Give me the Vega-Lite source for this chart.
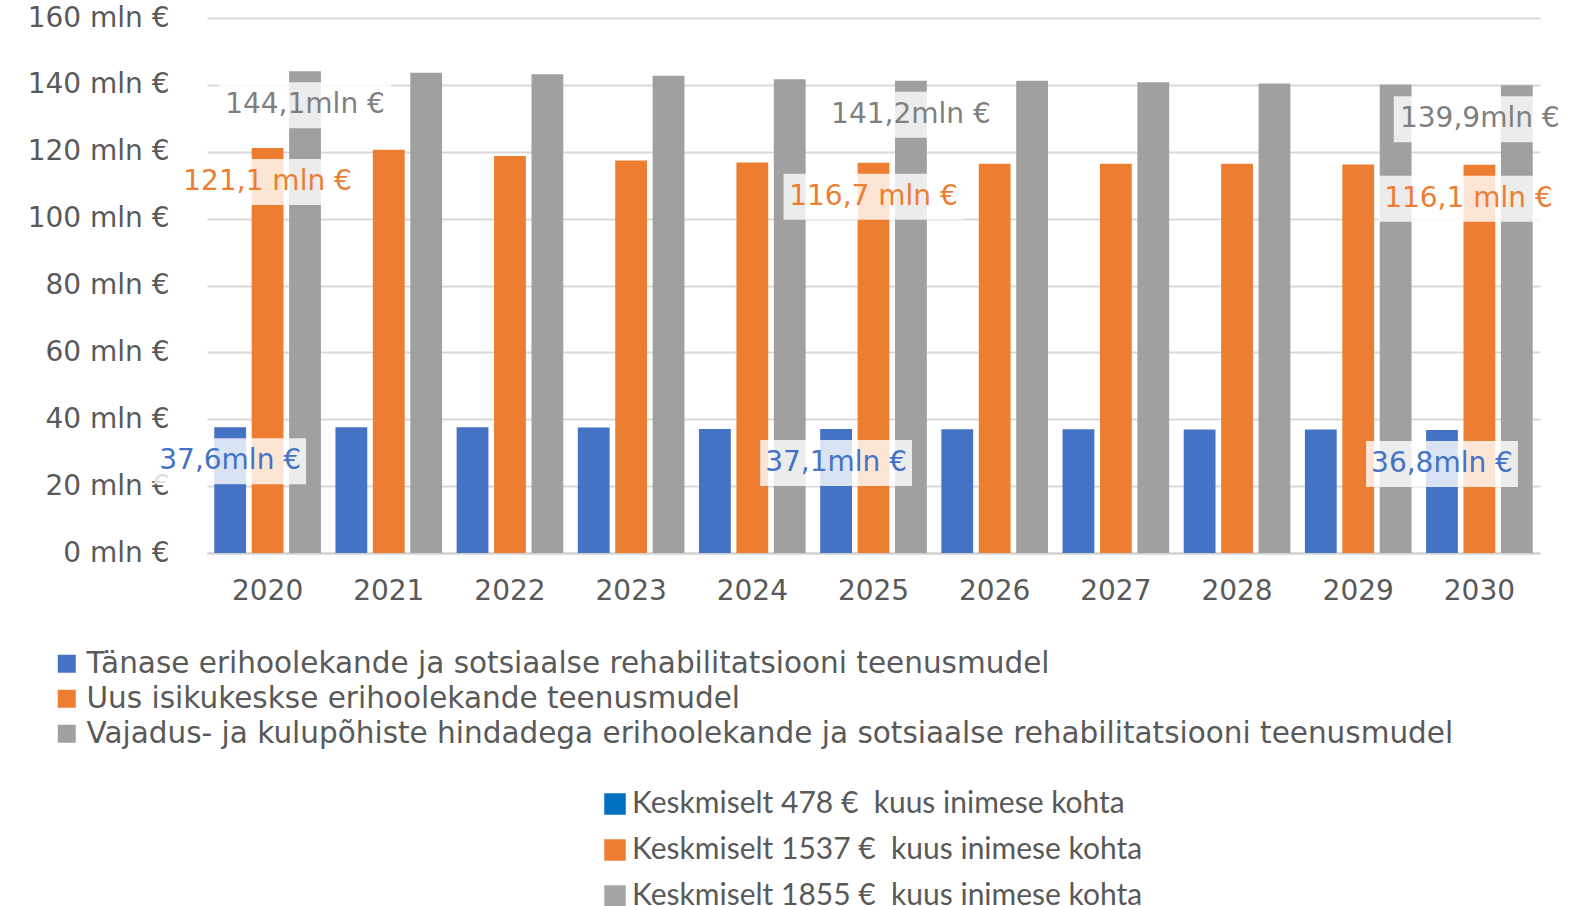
{
  "$schema": "https://vega.github.io/schema/vega-lite/v6.json",
  "width": 1333,
  "height": 535,
  "autosize": {"type": "none"},
  "padding": {"left": 207, "top": 18, "right": 45, "bottom": 353},
  "background": "white",
  "config": {
    "view": {"stroke": null},
    "font": "DejaVu Sans"
  },
  "layer": [
    {
      "data": {
        "values": [
          {"year": "2020", "series": "Tänase erihoolekande ja sotsiaalse rehabilitatsiooni teenusmudel", "value": 37.6, "label": "37,6mln €"},
          {"year": "2020", "series": "Uus isikukeskse erihoolekande teenusmudel", "value": 121.1, "label": "121,1 mln €"},
          {"year": "2020", "series": "Vajadus- ja kulupõhiste hindadega erihoolekande ja sotsiaalse rehabilitatsiooni teenusmudel", "value": 144.1, "label": "144,1mln €"},
          {"year": "2021", "series": "Tänase erihoolekande ja sotsiaalse rehabilitatsiooni teenusmudel", "value": 37.6},
          {"year": "2021", "series": "Uus isikukeskse erihoolekande teenusmudel", "value": 120.6},
          {"year": "2021", "series": "Vajadus- ja kulupõhiste hindadega erihoolekande ja sotsiaalse rehabilitatsiooni teenusmudel", "value": 143.6},
          {"year": "2022", "series": "Tänase erihoolekande ja sotsiaalse rehabilitatsiooni teenusmudel", "value": 37.6},
          {"year": "2022", "series": "Uus isikukeskse erihoolekande teenusmudel", "value": 118.7},
          {"year": "2022", "series": "Vajadus- ja kulupõhiste hindadega erihoolekande ja sotsiaalse rehabilitatsiooni teenusmudel", "value": 143.2},
          {"year": "2023", "series": "Tänase erihoolekande ja sotsiaalse rehabilitatsiooni teenusmudel", "value": 37.5},
          {"year": "2023", "series": "Uus isikukeskse erihoolekande teenusmudel", "value": 117.4},
          {"year": "2023", "series": "Vajadus- ja kulupõhiste hindadega erihoolekande ja sotsiaalse rehabilitatsiooni teenusmudel", "value": 142.7},
          {"year": "2024", "series": "Tänase erihoolekande ja sotsiaalse rehabilitatsiooni teenusmudel", "value": 37.1},
          {"year": "2024", "series": "Uus isikukeskse erihoolekande teenusmudel", "value": 116.8},
          {"year": "2024", "series": "Vajadus- ja kulupõhiste hindadega erihoolekande ja sotsiaalse rehabilitatsiooni teenusmudel", "value": 141.7},
          {"year": "2025", "series": "Tänase erihoolekande ja sotsiaalse rehabilitatsiooni teenusmudel", "value": 37.1, "label": "37,1mln €"},
          {"year": "2025", "series": "Uus isikukeskse erihoolekande teenusmudel", "value": 116.7, "label": "116,7 mln €"},
          {"year": "2025", "series": "Vajadus- ja kulupõhiste hindadega erihoolekande ja sotsiaalse rehabilitatsiooni teenusmudel", "value": 141.2, "label": "141,2mln €"},
          {"year": "2026", "series": "Tänase erihoolekande ja sotsiaalse rehabilitatsiooni teenusmudel", "value": 37.0},
          {"year": "2026", "series": "Uus isikukeskse erihoolekande teenusmudel", "value": 116.4},
          {"year": "2026", "series": "Vajadus- ja kulupõhiste hindadega erihoolekande ja sotsiaalse rehabilitatsiooni teenusmudel", "value": 141.2},
          {"year": "2027", "series": "Tänase erihoolekande ja sotsiaalse rehabilitatsiooni teenusmudel", "value": 37.0},
          {"year": "2027", "series": "Uus isikukeskse erihoolekande teenusmudel", "value": 116.4},
          {"year": "2027", "series": "Vajadus- ja kulupõhiste hindadega erihoolekande ja sotsiaalse rehabilitatsiooni teenusmudel", "value": 140.8},
          {"year": "2028", "series": "Tänase erihoolekande ja sotsiaalse rehabilitatsiooni teenusmudel", "value": 36.9},
          {"year": "2028", "series": "Uus isikukeskse erihoolekande teenusmudel", "value": 116.4},
          {"year": "2028", "series": "Vajadus- ja kulupõhiste hindadega erihoolekande ja sotsiaalse rehabilitatsiooni teenusmudel", "value": 140.4},
          {"year": "2029", "series": "Tänase erihoolekande ja sotsiaalse rehabilitatsiooni teenusmudel", "value": 36.9},
          {"year": "2029", "series": "Uus isikukeskse erihoolekande teenusmudel", "value": 116.2},
          {"year": "2029", "series": "Vajadus- ja kulupõhiste hindadega erihoolekande ja sotsiaalse rehabilitatsiooni teenusmudel", "value": 140.1},
          {"year": "2030", "series": "Tänase erihoolekande ja sotsiaalse rehabilitatsiooni teenusmudel", "value": 36.8, "label": "36,8mln €"},
          {"year": "2030", "series": "Uus isikukeskse erihoolekande teenusmudel", "value": 116.1, "label": "116,1 mln €"},
          {"year": "2030", "series": "Vajadus- ja kulupõhiste hindadega erihoolekande ja sotsiaalse rehabilitatsiooni teenusmudel", "value": 139.9, "label": "139,9mln €"}
        ]
      },
      "encoding": {
        "x": {
          "field": "year", "type": "nominal",
          "scale": {"domain": ["2020","2021","2022","2023","2024","2025","2026","2027","2028","2029","2030"], "paddingInner": 0.12, "paddingOuter": 0.06},
          "axis": {"title": null, "labelAngle": 0, "ticks": false, "labelFontSize": 28, "labelColor": "#595959", "labelPadding": 24, "domainColor": "#d0d0d0", "domainWidth": 2, "labelFont": "DejaVu Sans"}
        },
        "xOffset": {
          "field": "series", "type": "nominal",
          "scale": {"domain": ["Tänase erihoolekande ja sotsiaalse rehabilitatsiooni teenusmudel", "Uus isikukeskse erihoolekande teenusmudel", "Vajadus- ja kulupõhiste hindadega erihoolekande ja sotsiaalse rehabilitatsiooni teenusmudel"], "paddingInner": 0.15, "paddingOuter": 0}
        },
        "y": {
          "field": "value", "type": "quantitative",
          "scale": {"domain": [0, 160], "nice": false},
          "axis": {"title": null, "values": [0,20,40,60,80,100,120,140,160], "labelExpr": "datum.value + ' mln €'", "grid": true, "gridColor": "#d9d9d9", "gridWidth": 2, "ticks": false, "domain": false, "labelPadding": 38, "labelFontSize": 28, "labelColor": "#595959", "labelFont": "DejaVu Sans"}
        }
      },
      "layer": [
        {
          "mark": {"type": "bar"},
          "encoding": {
            "color": {
              "field": "series", "type": "nominal",
              "scale": {"domain": ["Tänase erihoolekande ja sotsiaalse rehabilitatsiooni teenusmudel", "Uus isikukeskse erihoolekande teenusmudel", "Vajadus- ja kulupõhiste hindadega erihoolekande ja sotsiaalse rehabilitatsiooni teenusmudel"], "range": ["#4472C4", "#ED7D31", "#A0A0A0"]},
              "legend": {"orient": "none", "legendX": -155, "legendY": 631, "title": null, "symbolType": "square", "symbolSize": 324, "symbolStrokeWidth": 0, "labelFontSize": 29.5, "labelColor": "#595959", "labelFont": "DejaVu Sans", "labelLimit": 2000, "rowPadding": 4, "labelOffset": 5, "padding": 0}
            }
          }
        },
        {
          "transform": [{"filter": "datum.label && datum.year != '2030' && datum.series == 'Vajadus- ja kulupõhiste hindadega erihoolekande ja sotsiaalse rehabilitatsiooni teenusmudel'"}],
          "mark": {"type": "point", "filled": true, "color": "white", "opacity": 0.8, "strokeWidth": 0, "size": 2116, "yOffset": 34, "shape": "M -3.74 -1 L 3.74 -1 L 3.74 1 L -3.74 1 Z"}
        },
        {
          "transform": [{"filter": "datum.label && datum.year == '2030' && datum.series == 'Vajadus- ja kulupõhiste hindadega erihoolekande ja sotsiaalse rehabilitatsiooni teenusmudel'"}],
          "mark": {"type": "point", "filled": true, "color": "white", "opacity": 0.8, "strokeWidth": 0, "size": 2116, "yOffset": 34, "shape": "M -5.35 -1 L 2.13 -1 L 2.13 1 L -5.35 1 Z"}
        },
        {
          "transform": [{"filter": "datum.label && datum.year != '2030' && datum.series == 'Uus isikukeskse erihoolekande teenusmudel'"}],
          "mark": {"type": "point", "filled": true, "color": "white", "opacity": 0.8, "strokeWidth": 0, "size": 2116, "yOffset": 34, "shape": "M -3.91 -1 L 3.91 -1 L 3.91 1 L -3.91 1 Z"}
        },
        {
          "transform": [{"filter": "datum.label && datum.year == '2030' && datum.series == 'Uus isikukeskse erihoolekande teenusmudel'"}],
          "mark": {"type": "point", "filled": true, "color": "white", "opacity": 0.8, "strokeWidth": 0, "size": 2116, "yOffset": 34, "shape": "M -4.39 -1 L 3.43 -1 L 3.43 1 L -4.39 1 Z"}
        },
        {
          "transform": [{"filter": "datum.label && datum.series == 'Tänase erihoolekande ja sotsiaalse rehabilitatsiooni teenusmudel'"}],
          "mark": {"type": "point", "filled": true, "color": "white", "opacity": 0.8, "strokeWidth": 0, "size": 2116, "yOffset": 34, "shape": "M -3.3 -1 L 3.3 -1 L 3.3 1 L -3.3 1 Z"}
        },
        {
          "transform": [{"filter": "datum.label && datum.year != '2030' && datum.series == 'Vajadus- ja kulupõhiste hindadega erihoolekande ja sotsiaalse rehabilitatsiooni teenusmudel'"}],
          "mark": {"type": "text", "baseline": "middle", "align": "center", "dy": 34, "fontSize": 28, "font": "DejaVu Sans", "color": "#7F7F7F"},
          "encoding": {"text": {"field": "label"}}
        },
        {
          "transform": [{"filter": "datum.label && datum.year == '2030' && datum.series == 'Vajadus- ja kulupõhiste hindadega erihoolekande ja sotsiaalse rehabilitatsiooni teenusmudel'"}],
          "mark": {"type": "text", "baseline": "middle", "align": "center", "dy": 34, "dx": -37, "fontSize": 28, "font": "DejaVu Sans", "color": "#7F7F7F"},
          "encoding": {"text": {"field": "label"}}
        },
        {
          "transform": [{"filter": "datum.label && datum.year != '2030' && datum.series == 'Uus isikukeskse erihoolekande teenusmudel'"}],
          "mark": {"type": "text", "baseline": "middle", "align": "center", "dy": 34, "fontSize": 28, "font": "DejaVu Sans", "color": "#ED7D31"},
          "encoding": {"text": {"field": "label"}}
        },
        {
          "transform": [{"filter": "datum.label && datum.year == '2030' && datum.series == 'Uus isikukeskse erihoolekande teenusmudel'"}],
          "mark": {"type": "text", "baseline": "middle", "align": "center", "dy": 34, "dx": -11, "fontSize": 28, "font": "DejaVu Sans", "color": "#ED7D31"},
          "encoding": {"text": {"field": "label"}}
        },
        {
          "transform": [{"filter": "datum.label && datum.series == 'Tänase erihoolekande ja sotsiaalse rehabilitatsiooni teenusmudel'"}],
          "mark": {"type": "text", "baseline": "middle", "align": "center", "dy": 34, "fontSize": 28, "font": "DejaVu Sans", "color": "#4472C4"},
          "encoding": {"text": {"field": "label"}}
        }
      ]
    },
    {
      "data": {
        "values": [
          {"avg": "Keskmiselt 478 €\u00a0 kuus inimese kohta"},
          {"avg": "Keskmiselt 1537 €\u00a0 kuus inimese kohta"},
          {"avg": "Keskmiselt 1855 €\u00a0 kuus inimese kohta"}
        ]
      },
      "mark": {"type": "square", "opacity": 0},
      "encoding": {
        "fill": {
          "field": "avg", "type": "nominal",
          "scale": {"domain": ["Keskmiselt 478 €\u00a0 kuus inimese kohta", "Keskmiselt 1537 €\u00a0 kuus inimese kohta", "Keskmiselt 1855 €\u00a0 kuus inimese kohta"], "range": ["#0070C0", "#ED7D31", "#A5A5A5"]},
          "legend": {"orient": "none", "legendX": 393, "legendY": 771, "title": null, "symbolType": "square", "symbolSize": 462, "symbolStrokeWidth": 0, "symbolOpacity": 1, "labelFontSize": 30, "labelColor": "#595959", "labelFont": "Lato", "labelLimit": 2000, "rowPadding": 16, "labelOffset": 2, "padding": 0}
        }
      }
    }
  ]
}
